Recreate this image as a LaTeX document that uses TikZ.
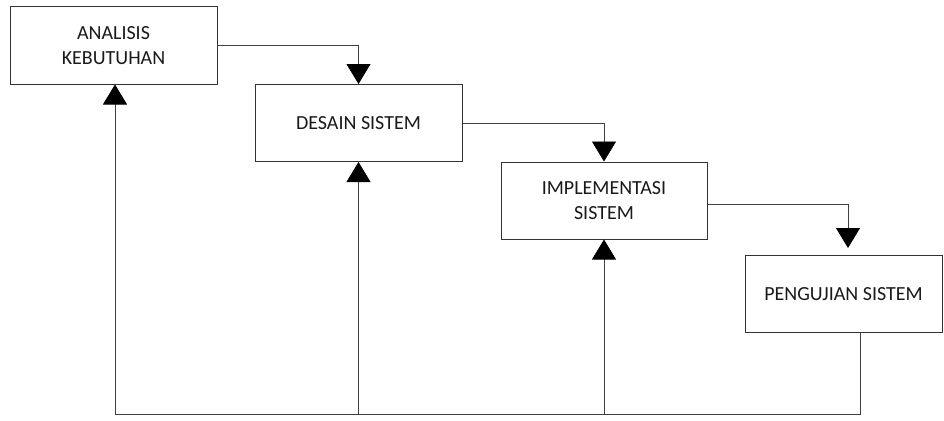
\documentclass[tikz,border=0pt]{standalone}
\usepackage{fontspec}
\setmainfont{Carlito}
\usetikzlibrary{arrows.meta}

\begin{document}
\begin{tikzpicture}[x=1pt, y=-1pt, font=\fontsize{20}{25}\selectfont,
    tahap/.style={draw=black!80, line width=1pt, align=center, inner sep=0pt,
      minimum height=77pt, text=black!90},
    alur/.style={black!75, line width=0.8pt, -{Triangle[width=24pt,length=20pt,fill=black,color=black]}},
    balik/.style={black!75, line width=0.8pt}]
      %% frame
      \useasboundingbox (0,0) rectangle (944,420);

      %% steps
      \node[tahap, minimum width=207pt] (analisis) at (113.5,45.5) {ANALISIS\\KEBUTUHAN};
      \node[tahap, minimum width=207pt] (desain) at (358.5,123) {DESAIN SISTEM};
      \node[tahap, minimum width=206pt] (implementasi) at (604,200.5) {IMPLEMENTASI\\SISTEM};
      \node[tahap, minimum width=197pt] (pengujian) at (843.5,294) {PENGUJIAN SISTEM};

      %% forward flow
      \draw[alur] (analisis.east) -| (desain.north);
      \draw[alur] (desain.east) -| (implementasi.north);
      \draw[alur, shorten >=7pt] (implementasi.east) ++(0,4) -| (pengujian.north -| 848,0);

      %% feedback
      \coordinate (dasar) at (115,414);
      \draw[balik] (pengujian.south -| 860,0) |- (dasar);
      \draw[alur] (dasar) -- (dasar |- analisis.south);
      \draw[alur] (desain.south |- dasar) -- (desain.south);
      \draw[alur] (implementasi.south |- dasar) -- (implementasi.south);

    \end{tikzpicture}
\end{document}
